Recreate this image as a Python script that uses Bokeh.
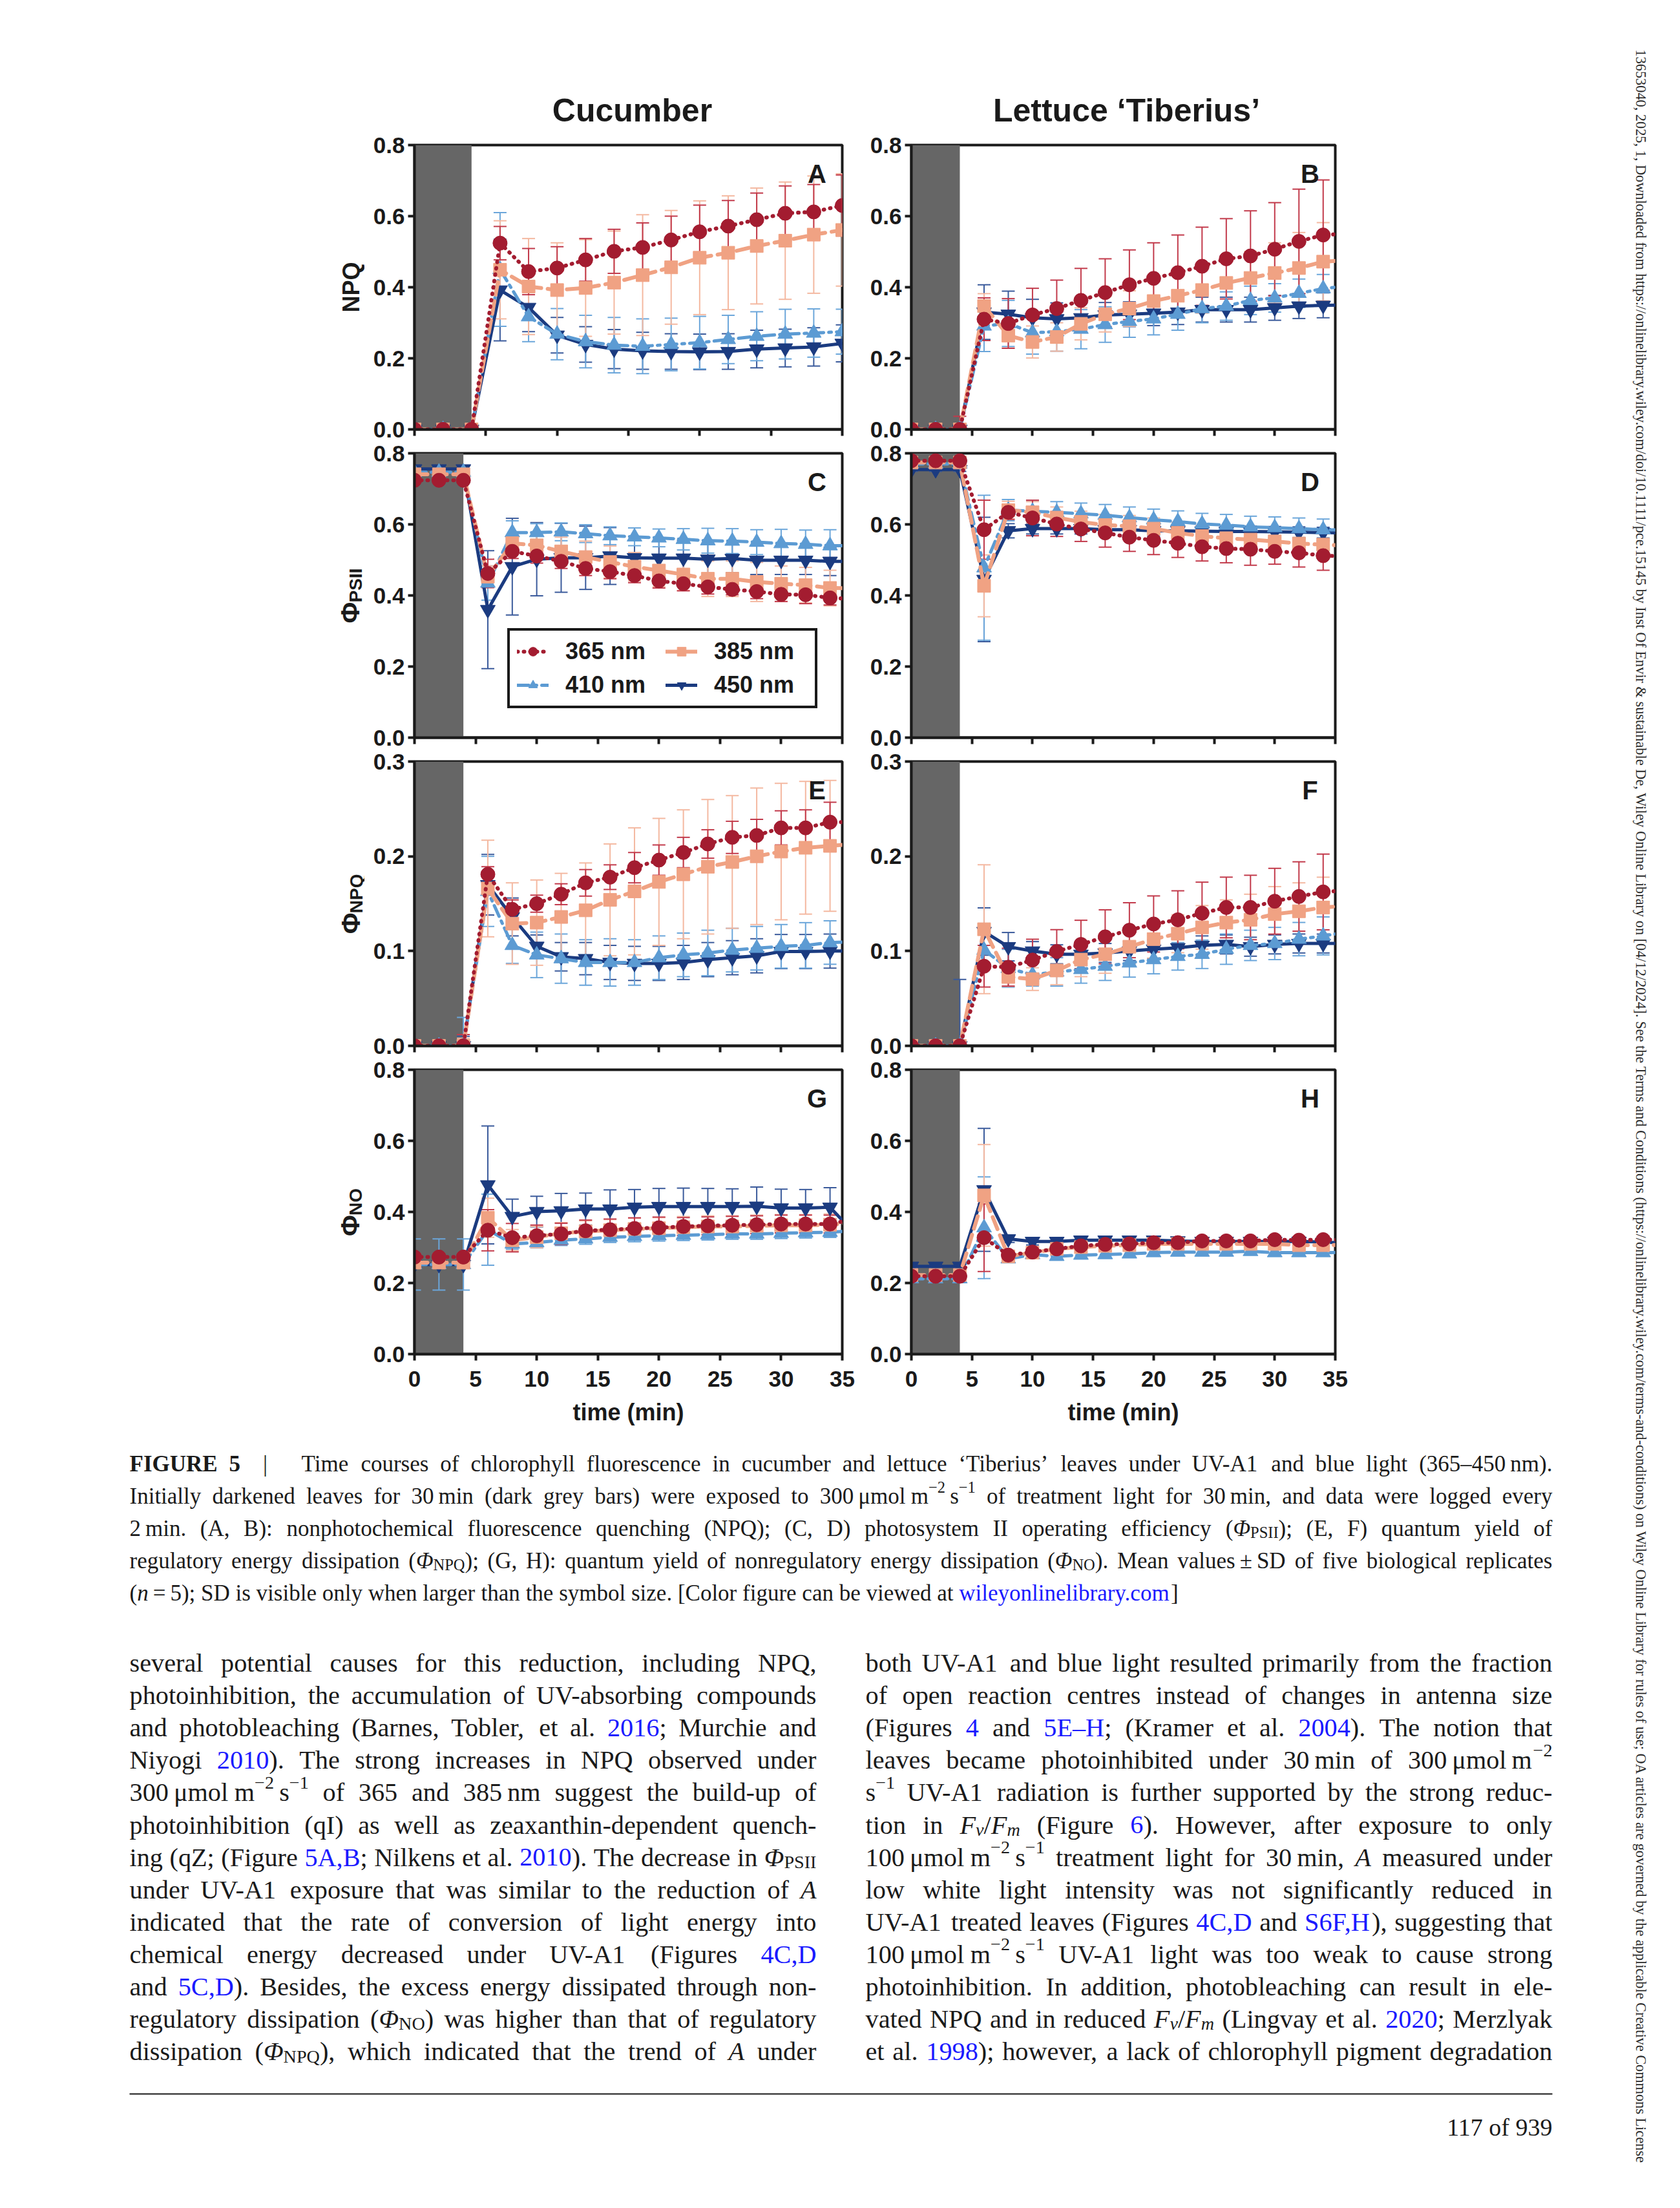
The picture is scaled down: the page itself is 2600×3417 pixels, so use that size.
import math
import re
from bokeh.plotting import figure
from bokeh.layouts import row, column
from bokeh.models import (Range1d, ColumnDataSource, Legend, LegendItem,
                          FixedTicker, NumeralTickFormatter)
from bokeh.core.properties import value
from bokeh.embed import file_html
from bokeh.resources import INLINE

# ------------------------------------------------------------------ data
T_A = [0, 2, 4, 6, 8, 10, 12, 14, 16, 18, 20, 22, 24, 26, 28, 30]
T = [0, 2, 4, 6, 8, 10, 12, 14, 16, 18, 20, 22, 24, 26, 28, 30, 32, 34, 36]
X_TICKS = [0, 5, 10, 15, 20, 25, 30, 35]
Y_TICKS_08 = [0.0, 0.2, 0.4, 0.6, 0.8]
Y_TICKS_03 = [0.0, 0.1, 0.2, 0.3]
DARK = [0, 4]
WAVES = ["365", "385", "410", "450"]

# A: NPQ cucumber
A_365 = [0, 0, 0, 0.524, 0.444, 0.454, 0.477, 0.501, 0.512, 0.533, 0.556, 0.572, 0.590, 0.608, 0.612, 0.630]
A_365_SD = [0, 0, 0, 0.047, 0.065, 0.060, 0.060, 0.062, 0.069, 0.067, 0.075, 0.072, 0.075, 0.077, 0.077, 0.086]
A_385 = [0, 0, 0, 0.449, 0.402, 0.392, 0.398, 0.413, 0.434, 0.456, 0.483, 0.497, 0.516, 0.531, 0.548, 0.561]
A_385_SD = [0, 0, 0, 0.138, 0.135, 0.133, 0.136, 0.145, 0.170, 0.160, 0.160, 0.160, 0.163, 0.165, 0.165, 0.158]
A_410 = [0, 0, 0, 0.450, 0.317, 0.268, 0.247, 0.237, 0.234, 0.239, 0.244, 0.253, 0.262, 0.268, 0.271, 0.275]
A_410_SD = [0, 0, 0, 0.160, 0.070, 0.072, 0.074, 0.078, 0.077, 0.074, 0.074, 0.068, 0.069, 0.070, 0.068, 0.063]
A_450 = [0, 0, 0, 0.392, 0.343, 0.265, 0.239, 0.226, 0.221, 0.219, 0.218, 0.219, 0.226, 0.229, 0.232, 0.242]
A_450_SD = [0, 0, 0, 0.143, 0.068, 0.050, 0.050, 0.055, 0.052, 0.050, 0.050, 0.050, 0.053, 0.053, 0.054, 0.052]

# B: NPQ lettuce
B_365 = [0, 0, 0, 0.310, 0.298, 0.322, 0.340, 0.363, 0.385, 0.407, 0.425, 0.441, 0.459, 0.480, 0.488, 0.507, 0.529, 0.547, 0.551]
B_365_SD = [0, 0, 0.037, 0.060, 0.070, 0.075, 0.080, 0.090, 0.095, 0.098, 0.100, 0.106, 0.110, 0.113, 0.127, 0.131, 0.147, 0.155]
B_385 = [0, 0, 0, 0.347, 0.264, 0.246, 0.260, 0.297, 0.324, 0.340, 0.361, 0.376, 0.392, 0.412, 0.426, 0.440, 0.454, 0.472, 0.476]
B_385_SD = [0, 0, 0, 0.035, 0.035, 0.045, 0.040, 0.045, 0.050, 0.050, 0.055, 0.060, 0.065, 0.070, 0.075, 0.085, 0.100, 0.110]
B_410 = [0, 0, 0, 0.291, 0.298, 0.272, 0.275, 0.282, 0.295, 0.304, 0.311, 0.324, 0.340, 0.347, 0.363, 0.370, 0.383, 0.396, 0.404]
B_410_SD = [0, 0, 0, 0.072, 0.065, 0.060, 0.055, 0.055, 0.050, 0.045, 0.045, 0.045, 0.040, 0.040, 0.040, 0.040, 0.040, 0.040]
B_450 = [0, 0, 0, 0.330, 0.324, 0.314, 0.311, 0.314, 0.322, 0.324, 0.327, 0.330, 0.337, 0.337, 0.337, 0.342, 0.347, 0.349, 0.350]
B_450_SD = [0, 0, 0, 0.077, 0.065, 0.052, 0.045, 0.040, 0.035, 0.035, 0.035, 0.035, 0.035, 0.035, 0.035, 0.035, 0.035, 0.035]

# C: PhiPSII cucumber
C_365 = [0.724, 0.724, 0.724, 0.462, 0.524, 0.511, 0.496, 0.476, 0.467, 0.456, 0.441, 0.433, 0.424, 0.417, 0.411, 0.403, 0.402, 0.393, 0.390]
C_365_SD = [0.005, 0.005, 0.005, 0.040, 0.020, 0.020, 0.020, 0.020, 0.020, 0.020, 0.020, 0.020, 0.020, 0.015, 0.020, 0.020, 0.025, 0.020]
C_385 = [0.741, 0.741, 0.741, 0.453, 0.547, 0.541, 0.524, 0.508, 0.494, 0.481, 0.470, 0.459, 0.447, 0.447, 0.438, 0.433, 0.429, 0.421, 0.420]
C_385_SD = [0, 0, 0, 0.030, 0.020, 0.030, 0.040, 0.045, 0.045, 0.040, 0.045, 0.045, 0.050, 0.050, 0.055, 0.050, 0.050, 0.050]
C_410 = [0.747, 0.747, 0.747, 0.435, 0.577, 0.577, 0.579, 0.574, 0.568, 0.565, 0.562, 0.558, 0.554, 0.553, 0.550, 0.546, 0.544, 0.540, 0.540]
C_410_SD = [0.010, 0.010, 0.010, 0.048, 0.033, 0.025, 0.025, 0.025, 0.025, 0.025, 0.025, 0.030, 0.035, 0.035, 0.035, 0.040, 0.040, 0.045]
C_450 = [0.756, 0.756, 0.756, 0.360, 0.481, 0.502, 0.506, 0.506, 0.511, 0.506, 0.505, 0.505, 0.502, 0.504, 0.499, 0.499, 0.499, 0.496, 0.496]
C_450_SD = [0.010, 0.010, 0.010, 0.166, 0.136, 0.103, 0.097, 0.089, 0.080, 0.060, 0.050, 0.050, 0.045, 0.040, 0.040, 0.040, 0.040, 0.040]

# D: PhiPSII lettuce
D_365 = [0.779, 0.779, 0.779, 0.585, 0.634, 0.618, 0.601, 0.587, 0.576, 0.564, 0.555, 0.547, 0.537, 0.532, 0.530, 0.524, 0.520, 0.512, 0.510]
D_365_SD = [0.005, 0.005, 0.005, 0.083, 0.020, 0.050, 0.035, 0.035, 0.040, 0.040, 0.040, 0.040, 0.040, 0.040, 0.045, 0.036, 0.040, 0.041]
D_385 = [0.774, 0.774, 0.774, 0.427, 0.640, 0.634, 0.619, 0.607, 0.598, 0.595, 0.588, 0.576, 0.567, 0.561, 0.557, 0.552, 0.546, 0.543, 0.540]
D_385_SD = [0.010, 0.010, 0.010, 0.087, 0.025, 0.030, 0.030, 0.030, 0.030, 0.030, 0.030, 0.030, 0.030, 0.030, 0.030, 0.030, 0.030, 0.030]
D_410 = [0.770, 0.770, 0.770, 0.478, 0.640, 0.637, 0.634, 0.630, 0.626, 0.619, 0.613, 0.608, 0.601, 0.598, 0.593, 0.591, 0.588, 0.585, 0.584]
D_410_SD = [0.005, 0.005, 0.005, 0.204, 0.030, 0.030, 0.030, 0.030, 0.030, 0.030, 0.030, 0.030, 0.030, 0.030, 0.030, 0.030, 0.030, 0.030]
D_450 = [0.754, 0.754, 0.754, 0.445, 0.582, 0.588, 0.588, 0.588, 0.585, 0.585, 0.582, 0.582, 0.581, 0.580, 0.580, 0.579, 0.578, 0.577, 0.576]
D_450_SD = [0.005, 0.005, 0.005, 0.175, 0.020, 0.015, 0.015, 0.015, 0.015, 0.015, 0.015, 0.015, 0.015, 0.015, 0.015, 0.015, 0.015, 0.015]

# E: PhiNPQ cucumber
E_365 = [0, 0, 0, 0.181, 0.144, 0.150, 0.160, 0.172, 0.178, 0.188, 0.196, 0.204, 0.213, 0.220, 0.222, 0.230, 0.230, 0.236, 0.236]
E_365_SD = [0, 0, 0.012, 0.008, 0.010, 0.009, 0.011, 0.014, 0.013, 0.016, 0.016, 0.016, 0.015, 0.017, 0.017, 0.018, 0.019, 0.021]
E_385 = [0, 0, 0, 0.166, 0.129, 0.130, 0.136, 0.143, 0.154, 0.163, 0.173, 0.181, 0.189, 0.194, 0.200, 0.205, 0.209, 0.211, 0.213]
E_385_SD = [0, 0, 0.008, 0.051, 0.043, 0.045, 0.046, 0.050, 0.059, 0.067, 0.067, 0.068, 0.071, 0.070, 0.072, 0.072, 0.070, 0.069]
E_410 = [0, 0, 0, 0.163, 0.106, 0.096, 0.092, 0.088, 0.088, 0.088, 0.093, 0.096, 0.098, 0.101, 0.103, 0.105, 0.106, 0.109, 0.110]
E_410_SD = [0, 0, 0.030, 0.037, 0.019, 0.024, 0.026, 0.024, 0.025, 0.024, 0.023, 0.023, 0.024, 0.023, 0.023, 0.023, 0.024, 0.023]
E_450 = [0, 0, 0, 0.170, 0.136, 0.105, 0.094, 0.092, 0.088, 0.087, 0.087, 0.088, 0.091, 0.093, 0.095, 0.0995, 0.0995, 0.100, 0.100]
E_450_SD = [0, 0, 0.010, 0.032, 0.020, 0.012, 0.015, 0.017, 0.018, 0.018, 0.018, 0.018, 0.018, 0.018, 0.018, 0.018, 0.018, 0.018]

# F: PhiNPQ lettuce
F_365 = [0, 0, 0, 0.084, 0.083, 0.0905, 0.0996, 0.107, 0.115, 0.122, 0.1286, 0.133, 0.140, 0.146, 0.146, 0.1526, 0.1576, 0.1624, 0.164]
F_365_SD = [0, 0, 0.005, 0.022, 0.020, 0.022, 0.023, 0.0255, 0.0285, 0.029, 0.0296, 0.0306, 0.0327, 0.032, 0.034, 0.0347, 0.0366, 0.040]
F_385 = [0, 0, 0, 0.123, 0.0727, 0.0704, 0.0795, 0.091, 0.0966, 0.1046, 0.1126, 0.1183, 0.125, 0.130, 0.133, 0.139, 0.142, 0.146, 0.148]
F_385_SD = [0, 0, 0.005, 0.068, 0.010, 0.012, 0.015, 0.018, 0.020, 0.018, 0.020, 0.020, 0.023, 0.024, 0.027, 0.029, 0.030, 0.032]
F_410 = [0, 0, 0, 0.101, 0.0818, 0.075, 0.078, 0.0806, 0.084, 0.0875, 0.091, 0.0944, 0.0966, 0.102, 0.106, 0.108, 0.1126, 0.116, 0.120]
F_410_SD = [0, 0, 0.005, 0.020, 0.020, 0.012, 0.015, 0.0145, 0.015, 0.015, 0.015, 0.0145, 0.015, 0.016, 0.016, 0.017, 0.0176, 0.020]
F_450 = [0, 0, 0, 0.1206, 0.1046, 0.100, 0.0966, 0.0966, 0.098, 0.100, 0.102, 0.1035, 0.106, 0.107, 0.1046, 0.107, 0.108, 0.108, 0.108]
F_450_SD = [0, 0, 0.070, 0.025, 0.015, 0.010, 0.010, 0.010, 0.010, 0.010, 0.010, 0.010, 0.010, 0.010, 0.010, 0.010, 0.010, 0.010]

# G: PhiNO cucumber
G_365 = [0.273, 0.273, 0.273, 0.3485, 0.3275, 0.333, 0.338, 0.347, 0.350, 0.3534, 0.3555, 0.359, 0.361, 0.3625, 0.364, 0.366, 0.366, 0.366, 0.380]
G_365_SD = [0.010, 0.010, 0.010, 0.058, 0.040, 0.030, 0.030, 0.030, 0.030, 0.030, 0.030, 0.025, 0.025, 0.025, 0.025, 0.025, 0.025, 0.025]
G_385 = [0.2575, 0.2575, 0.2575, 0.3835, 0.3205, 0.329, 0.340, 0.345, 0.3485, 0.352, 0.354, 0.357, 0.359, 0.359, 0.361, 0.3625, 0.3625, 0.364, 0.370]
G_385_SD = [0.015, 0.015, 0.015, 0.055, 0.030, 0.030, 0.030, 0.030, 0.030, 0.030, 0.030, 0.030, 0.030, 0.030, 0.030, 0.030, 0.030, 0.030]
G_410 = [0.252, 0.252, 0.252, 0.350, 0.310, 0.3135, 0.3205, 0.324, 0.329, 0.331, 0.333, 0.3345, 0.336, 0.338, 0.338, 0.340, 0.3415, 0.343, 0.347]
G_410_SD = [0.072, 0.072, 0.072, 0.100, 0.015, 0.015, 0.015, 0.015, 0.015, 0.015, 0.015, 0.015, 0.015, 0.015, 0.015, 0.015, 0.015, 0.015]
G_450 = [0.252, 0.252, 0.252, 0.476, 0.387, 0.401, 0.403, 0.408, 0.408, 0.413, 0.415, 0.415, 0.415, 0.415, 0.416, 0.411, 0.411, 0.413, 0.340]
G_450_SD = [0.010, 0.010, 0.010, 0.166, 0.049, 0.043, 0.049, 0.045, 0.054, 0.050, 0.051, 0.052, 0.051, 0.050, 0.054, 0.053, 0.052, 0.055]

# H: PhiNO lettuce
H_365 = [0.219, 0.219, 0.219, 0.3275, 0.2785, 0.287, 0.296, 0.3045, 0.3086, 0.310, 0.3135, 0.3135, 0.3184, 0.3184, 0.3184, 0.322, 0.3205, 0.322, 0.322]
H_365_SD = [0.005, 0.005, 0.005, 0.095, 0.010, 0.010, 0.010, 0.010, 0.010, 0.010, 0.010, 0.010, 0.010, 0.010, 0.010, 0.010, 0.010, 0.010]
H_385 = [0.2225, 0.2225, 0.2225, 0.4465, 0.275, 0.2855, 0.296, 0.301, 0.3045, 0.3065, 0.310, 0.310, 0.310, 0.310, 0.310, 0.310, 0.3065, 0.3065, 0.307]
H_385_SD = [0.005, 0.005, 0.005, 0.143, 0.010, 0.010, 0.010, 0.010, 0.010, 0.010, 0.010, 0.010, 0.010, 0.010, 0.010, 0.010, 0.010, 0.010]
H_410 = [0.212, 0.212, 0.212, 0.3555, 0.268, 0.280, 0.275, 0.2785, 0.280, 0.282, 0.2855, 0.287, 0.287, 0.287, 0.289, 0.2855, 0.2855, 0.2855, 0.286]
H_410_SD = [0.010, 0.010, 0.010, 0.143, 0.010, 0.010, 0.010, 0.010, 0.010, 0.010, 0.010, 0.010, 0.010, 0.010, 0.010, 0.010, 0.010, 0.010]
H_450 = [0.247, 0.247, 0.247, 0.462, 0.324, 0.317, 0.317, 0.3205, 0.3205, 0.3205, 0.3205, 0.3184, 0.317, 0.317, 0.317, 0.317, 0.317, 0.315, 0.312]
H_450_SD = [0.005, 0.005, 0.005, 0.173, 0.010, 0.010, 0.010, 0.010, 0.010, 0.010, 0.010, 0.010, 0.010, 0.010, 0.010, 0.010, 0.010, 0.010]

COL_TITLES = ["Cucumber", "Lettuce \u2018Tiberius\u2019"]
Y_LABELS = [("NPQ", ""), ("\u03a6", "PSII"), ("\u03a6", "NPQ"), ("\u03a6", "NO")]
X_LABEL = "time (min)"

# ------------------------------------------------------------------ geometry (page px)
MAIN_W, SIDE_W = 2500, 98
TOP_H = 208
GUT_W = 564
L_W, L_MB_L, L_MB_R = 769, 77, 30
R_W, R_MB_L, R_MB_R = 1167, 77, 434
ROW_H, MB_T, MB_B = 477, 16, 21
LAST_MB_B = 130
LAST_H = MB_T + (ROW_H - MB_T - MB_B) + LAST_MB_B
GRID_H = 3 * ROW_H + LAST_H
TOTAL_H = 3415
TEXT_H = TOTAL_H - TOP_H - GRID_H
FRAME_H = ROW_H - MB_T - MB_B
GRID_TOP = TOP_H
TEXT_TOP = TOP_H + GRID_H

INK = "#1a1a1a"
SANS = "Liberation Sans"
SERIF = "Liberation Serif"
LINK = "#1a1aff"

STYLE = {
    "365": dict(color="#A31C30", err="#C23A4B", marker="circle", size=22, dash="1 9", lw=6),
    "385": dict(color="#F0A283", err="#F4B8A0", marker="square", size=20, dash="20 10", lw=6),
    "410": dict(color="#5C9BD3", err="#6BA6DA", marker="triangle", size=23, dash="18 8 4 8", lw=5),
    "450": dict(color="#1B3B80", err="#3A5A9B", marker="inverted_triangle", size=23, dash="solid", lw=5),
}
DRAW_ORDER = ["450", "410", "385", "365"]

PANELS = {
    "A": (T_A, 30, 0.8, Y_TICKS_08, {"365": (A_365, A_365_SD), "385": (A_385, A_385_SD), "410": (A_410, A_410_SD), "450": (A_450, A_450_SD)}),
    "B": (T, 35, 0.8, Y_TICKS_08, {"365": (B_365, B_365_SD), "385": (B_385, B_385_SD), "410": (B_410, B_410_SD), "450": (B_450, B_450_SD)}),
    "C": (T, 35, 0.8, Y_TICKS_08, {"365": (C_365, C_365_SD), "385": (C_385, C_385_SD), "410": (C_410, C_410_SD), "450": (C_450, C_450_SD)}),
    "D": (T, 35, 0.8, Y_TICKS_08, {"365": (D_365, D_365_SD), "385": (D_385, D_385_SD), "410": (D_410, D_410_SD), "450": (D_450, D_450_SD)}),
    "E": (T, 35, 0.3, Y_TICKS_03, {"365": (E_365, E_365_SD), "385": (E_385, E_385_SD), "410": (E_410, E_410_SD), "450": (E_450, E_450_SD)}),
    "F": (T, 35, 0.3, Y_TICKS_03, {"365": (F_365, F_365_SD), "385": (F_385, F_385_SD), "410": (F_410, F_410_SD), "450": (F_450, F_450_SD)}),
    "G": (T, 35, 0.8, Y_TICKS_08, {"365": (G_365, G_365_SD), "385": (G_385, G_385_SD), "410": (G_410, G_410_SD), "450": (G_450, G_450_SD)}),
    "H": (T, 35, 0.8, Y_TICKS_08, {"365": (H_365, H_365_SD), "385": (H_385, H_385_SD), "410": (H_410, H_410_SD), "450": (H_450, H_450_SD)}),
}


def make_panel(letter, is_left, is_bottom, with_legend):
    t, xmax, ymax, yticks, data = PANELS[letter]
    w = L_W if is_left else R_W
    h = LAST_H if is_bottom else ROW_H
    mbl = L_MB_L if is_left else R_MB_L
    mbr = L_MB_R if is_left else R_MB_R
    mbb = LAST_MB_B if is_bottom else MB_B
    fw = w - mbl - mbr
    p = figure(width=w, height=h, x_range=Range1d(0, xmax), y_range=Range1d(0, ymax),
               min_border_left=mbl, min_border_right=mbr, min_border_top=MB_T,
               min_border_bottom=mbb, toolbar_location=None, output_backend="svg")
    p.xgrid.visible = False
    p.ygrid.visible = False
    p.outline_line_color = INK
    p.outline_line_width = 4
    p.background_fill_color = "white"
    p.border_fill_color = "white"

    p.quad(left=[DARK[0]], right=[DARK[1]], bottom=[0], top=[ymax],
           fill_color="#666666", line_color=None)

    for key in DRAW_ORDER:
        mean, sd = data[key]
        st = STYLE[key]
        xs, lo, hi = [], [], []
        for ti, mi, si in zip(t, mean, sd):
            if si > 0:
                xs.append(ti)
                lo.append(mi - si)
                hi.append(mi + si)
        if xs:
            p.segment(x0=xs, y0=lo, x1=xs, y1=hi, line_color=st["err"], line_width=2)
            p.scatter(x=xs + xs, y=lo + hi, marker="dash", size=20,
                      line_color=st["err"], line_width=2)

    rend = {}
    for key in DRAW_ORDER:
        mean, sd = data[key]
        st = STYLE[key]
        lr = p.line(t[:len(mean)], mean, line_color=st["color"], line_width=st["lw"],
                    line_dash=st["dash"], line_cap="round")
        n = len(sd)
        sr = p.scatter(t[:n], mean[:n], marker=st["marker"], size=st["size"],
                       fill_color=st["color"], line_color=st["color"])
        rend[key] = (lr, sr)

    p.text(x=[xmax - 39.0 / fw * xmax], y=[ymax - 44.0 / FRAME_H * ymax], text=[letter],
           text_font=value(SANS), text_font_style="bold", text_font_size=value("40px"),
           text_color=INK, text_align="center", text_baseline="middle")

    for ax in (p.xaxis[0], p.yaxis[0]):
        ax.axis_line_width = 4
        ax.axis_line_color = INK
        ax.major_tick_line_width = 4
        ax.major_tick_line_color = INK
        ax.major_tick_out = 10
        ax.major_tick_in = 0
        ax.minor_tick_line_color = None
        ax.major_label_text_font = SANS
        ax.major_label_text_font_style = "bold"
        ax.major_label_text_font_size = "35px"
        ax.major_label_text_color = INK
    xt = [x for x in X_TICKS if x <= xmax]
    p.xaxis.ticker = FixedTicker(ticks=xt)
    p.yaxis.ticker = FixedTicker(ticks=yticks)
    p.yaxis.formatter = NumeralTickFormatter(format="0.0")
    p.yaxis.major_label_standoff = 5
    if is_bottom:
        p.xaxis.major_label_standoff = 16
        p.xaxis.axis_label = X_LABEL
        p.xaxis.axis_label_text_font = SANS
        p.xaxis.axis_label_text_font_style = "bold"
        p.xaxis.axis_label_text_font_size = "36px"
        p.xaxis.axis_label_text_color = INK
        p.xaxis.axis_label_standoff = 16
    else:
        p.xaxis.major_label_overrides = {x: "" for x in xt}
        p.xaxis.major_label_text_font_size = "1px"
        p.xaxis.major_label_standoff = 0

    if with_legend:
        items = [LegendItem(label=f"{k} nm", renderers=list(rend[k])) for k in WAVES]
        lg = Legend(items=items, location=(144, 45), orientation="horizontal", ncols=2,
                    border_line_color=INK, border_line_width=4, border_line_alpha=1.0,
                    background_fill_color="white", background_fill_alpha=1.0,
                    label_text_font=SANS, label_text_font_style="bold",
                    label_text_font_size="36px", label_text_color=INK,
                    glyph_width=49, glyph_height=34, label_height=34, label_width=145,
                    label_standoff=26, spacing=10, padding=11, margin=0)
        p.add_layout(lg)
    return p


def plain_fig(w, h):
    p = figure(width=w, height=h, x_range=Range1d(0, w), y_range=Range1d(0, h),
               x_axis_type=None, y_axis_type=None, toolbar_location=None,
               output_backend="svg", min_border=0)
    p.outline_line_color = None
    p.background_fill_color = "white"
    p.border_fill_color = "white"
    return p


# ------------------------------------------------------------------ header / gutter
top = plain_fig(MAIN_W, TOP_H)
TITLE_X = [978, 1743]
top.text(x=TITLE_X, y=[TOP_H - 170] * 2, text=COL_TITLES,
         text_font=value(SANS), text_font_style="bold", text_font_size=value("50px"),
         text_color=INK, text_align="center", text_baseline="middle")

gut = plain_fig(GUT_W, GRID_H)
AR_B = {"N": 722, "P": 667, "Q": 778, "S": 667, "I": 278, "O": 778}
LABEL_XS = [543, 541, 542, 541]
for r, (main, sub) in enumerate(Y_LABELS):
    cy = GRID_TOP + r * ROW_H + MB_T + FRAME_H / 2
    gx = LABEL_XS[r]
    if not sub:
        gut.text(x=[gx], y=[GRID_H - (cy - GRID_TOP)], text=[main], angle=math.pi / 2,
                 text_font=value(SANS), text_font_style="bold", text_font_size=value("36px"),
                 text_color=INK, text_align="center", text_baseline="middle")
    else:
        wf = 0.78 * 40
        ws = sum(AR_B.get(c, 600) for c in sub) / 1000 * 28
        L = wf + ws
        yf = cy + L / 2 - wf / 2
        ys = cy - L / 2 + ws / 2
        gut.text(x=[gx], y=[GRID_H - (yf - GRID_TOP)], text=[main], angle=math.pi / 2,
                 text_font=value(SANS), text_font_style="bold", text_font_size=value("40px"),
                 text_color=INK, text_align="center", text_baseline="middle")
        gut.text(x=[gx + 9], y=[GRID_H - (ys - GRID_TOP)], text=[sub], angle=math.pi / 2,
                 text_font=value(SANS), text_font_style="bold", text_font_size=value("28px"),
                 text_color=INK, text_align="center", text_baseline="middle")

rows = []
pairs = [("A", "B"), ("C", "D"), ("E", "F"), ("G", "H")]
for r, (a, b) in enumerate(pairs):
    last = r == 3
    rows.append(row(make_panel(a, True, last, a == "C"), make_panel(b, False, last, False)))
grid = row(gut, column(*rows))

# ------------------------------------------------------------------ text block
TIMES = dict(zip(
    " !\"#$%&'()*+,-./0123456789:;<=>?@",
    [250, 333, 408, 500, 500, 833, 778, 180, 333, 333, 500, 564, 250, 333, 250, 278,
     500, 500, 500, 500, 500, 500, 500, 500, 500, 500, 278, 278, 564, 564, 564, 444, 921]))
TIMES.update(dict(zip(
    "ABCDEFGHIJKLMNOPQRSTUVWXYZ[]|",
    [722, 667, 667, 722, 611, 556, 722, 722, 333, 389, 722, 611, 889, 722, 722, 556, 722,
     667, 556, 611, 722, 722, 944, 722, 722, 611, 333, 333, 200])))
TIMES.update(dict(zip(
    "abcdefghijklmnopqrstuvwxyz",
    [444, 500, 444, 500, 444, 333, 500, 500, 278, 278, 500, 278, 778, 500, 500, 500, 500,
     333, 389, 278, 500, 500, 722, 500, 500, 444])))
TIMES.update({"\u2018": 333, "\u2019": 333, "\u2013": 500, "\u2212": 564, "\u03bc": 576,
              "\u00b1": 564, "\u03a6": 760, "\u2009": 200, "\u2002": 500, "\u2003": 1000})
BOLD = {"F": 611, "I": 389, "G": 778, "U": 722, "R": 722, "E": 667}
ITAL = {"A": 611, "F": 611, "v": 444, "m": 722, "n": 500}

KINDS = {  # style, colour, size factor, baseline shift factor
    "n": ("normal", INK, 1.0, 0.0),
    "b": ("bold", INK, 1.0, 0.0),
    "i": ("italic", INK, 1.0, 0.0),
    "l": ("normal", LINK, 1.0, 0.0),
    "sup": ("normal", INK, 0.7, 0.38),
    "sub": ("normal", INK, 0.7, -0.18),
    "isub": ("italic", INK, 0.7, -0.18),
}


def em_width(s, kind):
    st = KINDS[kind][0]
    tot = 0
    for c in s:
        w = TIMES.get(c, 500)
        if st == "bold":
            w = BOLD.get(c, w)
        elif st == "italic":
            w = ITAL.get(c, w)
        tot += w
    return tot / 1000.0 * KINDS[kind][2]


def pieces_of(segs):
    out = []
    for text, kind in segs:
        if kind in ("n", "l", "i", "b"):
            for part in re.split("( )", text):
                if part:
                    out.append((part, kind, part == " "))
        else:
            out.append((text, kind, False))
    return out


def natural(segs):
    return sum(em_width(p, k) for p, k, _ in pieces_of(segs))


def lay(segs, x0, width, base_y, S, justify, items):
    pcs = pieces_of(segs)
    nat = sum(em_width(p, k) for p, k, _ in pcs) * S
    nsp = sum(1 for _, _, s in pcs if s)
    extra = (width - nat) / nsp if (justify and nsp) else 0.0
    x = x0
    for p, k, s in pcs:
        w = em_width(p, k) * S
        if s:
            x += w + extra
        else:
            items.append((x, base_y - KINDS[k][3] * S, p, k, S))
            x += w


def S_(t):
    return [(t, "n")]


SUP2 = [("m", "n"), ("\u22122", "sup"), ("\u2009s", "n"), ("\u22121", "sup")]

CAPTION = [
    [("FIGURE 5", "b"), ("\u2002\u2002|\u2002\u2003", "n"),
     ("Time courses of chlorophyll fluorescence in cucumber and lettuce \u2018Tiberius\u2019 leaves under UV-A1 and blue light (365\u2013450\u2009nm).", "n")],
    [("Initially darkened leaves for 30\u2009min (dark grey bars) were exposed to 300\u2009\u03bcmol\u2009", "n")] + SUP2 +
    [(" of treatment light for 30\u2009min, and data were logged every", "n")],
    [("2\u2009min. (A, B): nonphotochemical fluorescence quenching (NPQ); (C, D) photosystem II operating efficiency (", "n"),
     ("\u03a6", "i"), ("PSII", "sub"), ("); (E, F) quantum yield of", "n")],
    [("regulatory energy dissipation (", "n"), ("\u03a6", "i"), ("NPQ", "sub"),
     ("); (G, H): quantum yield of nonregulatory energy dissipation (", "n"), ("\u03a6", "i"), ("NO", "sub"),
     ("). Mean values\u2009\u00b1\u2009SD of five biological replicates", "n")],
    [("(", "n"), ("n", "i"), ("\u2009=\u20095); SD is visible only when larger than the symbol size. [Color figure can be viewed at ", "n"),
     ("wileyonlinelibrary.com", "l"), ("]", "n")],
]
CAPTION_JUST = [True, True, True, True, False]

LEFT_COL = [
    S_("several potential causes for this reduction, including NPQ,"),
    S_("photoinhibition, the accumulation of UV-absorbing compounds"),
    [("and photobleaching (Barnes, Tobler, et al. ", "n"), ("2016", "l"), ("; Murchie and", "n")],
    [("Niyogi ", "n"), ("2010", "l"), ("). The strong increases in NPQ observed under", "n")],
    [("300\u2009\u03bcmol\u2009", "n")] + SUP2 + [(" of 365 and 385\u2009nm suggest the build-up of", "n")],
    S_("photoinhibition (qI) as well as zeaxanthin-dependent quench-"),
    [("ing (qZ; (Figure ", "n"), ("5A,B", "l"), ("; Nilkens et al. ", "n"), ("2010", "l"),
     ("). The decrease in ", "n"), ("\u03a6", "i"), ("PSII", "sub")],
    [("under UV-A1 exposure that was similar to the reduction of ", "n"), ("A", "i")],
    S_("indicated that the rate of conversion of light energy into"),
    [("chemical energy decreased under UV-A1 (Figures ", "n"), ("4C,D", "l")],
    [("and ", "n"), ("5C,D", "l"), ("). Besides, the excess energy dissipated through non-", "n")],
    [("regulatory dissipation (", "n"), ("\u03a6", "i"), ("NO", "sub"), (") was higher than that of regulatory", "n")],
    [("dissipation (", "n"), ("\u03a6", "i"), ("NPQ", "sub"), ("), which indicated that the trend of ", "n"),
     ("A", "i"), (" under", "n")],
]
FVFM = [("F", "i"), ("v", "isub"), ("/", "n"), ("F", "i"), ("m", "isub")]
RIGHT_COL = [
    S_("both UV-A1 and blue light resulted primarily from the fraction"),
    S_("of open reaction centres instead of changes in antenna size"),
    [("(Figures ", "n"), ("4", "l"), (" and ", "n"), ("5E\u2013H", "l"), ("; (Kramer et al. ", "n"),
     ("2004", "l"), ("). The notion that", "n")],
    [("leaves became photoinhibited under 30\u2009min of 300\u2009\u03bcmol\u2009m", "n"), ("\u22122", "sup")],
    [("s", "n"), ("\u22121", "sup"), (" UV-A1 radiation is further supported by the strong reduc-", "n")],
    [("tion in ", "n")] + FVFM + [(" (Figure ", "n"), ("6", "l"), ("). However, after exposure to only", "n")],
    [("100\u2009\u03bcmol\u2009", "n")] + SUP2 + [(" treatment light for 30\u2009min, ", "n"), ("A", "i"),
                                               (" measured under", "n")],
    S_("low white light intensity was not significantly reduced in"),
    [("UV-A1 treated leaves (Figures ", "n"), ("4C,D", "l"), (" and ", "n"), ("S6F,H", "l"),
     ("), suggesting that", "n")],
    [("100\u2009\u03bcmol\u2009", "n")] + SUP2 + [(" UV-A1 light was too weak to cause strong", "n")],
    S_("photoinhibition. In addition, photobleaching can result in ele-"),
    [("vated NPQ and in reduced ", "n")] + FVFM + [(" (Lingvay et al. ", "n"), ("2020", "l"),
                                                   ("; Merzlyak", "n")],
    [("et al. ", "n"), ("1998", "l"), ("); however, a lack of chlorophyll pigment degradation", "n")],
]
FOOTER = "117 of 939"
SIDEBAR = ("13653040, 2025, 1, Downloaded from https://onlinelibrary.wiley.com/doi/10.1111/pce.15145 "
           "by Inst Of Envir & sustainable De, Wiley Online Library on [04/12/2024]. See the Terms and "
           "Conditions (https://onlinelibrary.wiley.com/terms-and-conditions) on Wiley Online Library "
           "for rules of use; OA articles are governed by the applicable Creative Commons License")

TEXT_X0, TEXT_X1 = 200, 2402
COL_W = 1063
RCOL_X0 = 1339
CAP_Y0, BODY_Y0, LINE_PITCH = 2264, 2574, 50.1

items = []
cap_w = TEXT_X1 - TEXT_X0
S_cap = min([0.995 * cap_w / natural(l) for l, j in zip(CAPTION, CAPTION_JUST) if j] + [35.0])
for i, (segs, j) in enumerate(zip(CAPTION, CAPTION_JUST)):
    lay(segs, TEXT_X0, cap_w, CAP_Y0 + i * LINE_PITCH + 0.3 * S_cap - 10, S_cap, j, items)
S_body = min([0.995 * COL_W / natural(l) for l in LEFT_COL + RIGHT_COL] + [41.0])
for i, segs in enumerate(LEFT_COL):
    lay(segs, TEXT_X0, COL_W, BODY_Y0 + i * LINE_PITCH + 0.3 * S_body - 13, S_body, True, items)
for i, segs in enumerate(RIGHT_COL):
    lay(segs, RCOL_X0, COL_W, BODY_Y0 + i * LINE_PITCH + 0.3 * S_body - 13, S_body, True, items)

txt = plain_fig(MAIN_W, TEXT_H)
groups = {}
for x, y, s, k, S in items:
    groups.setdefault((k, round(S * KINDS[k][2], 2)), []).append((x, TEXT_H - (y - TEXT_TOP), s))
for (k, size), vals in groups.items():
    style, color, _, _ = KINDS[k]
    src = ColumnDataSource(dict(x=[v[0] for v in vals], y=[v[1] for v in vals], text=[v[2] for v in vals]))
    txt.text(x="x", y="y", text="text", source=src, text_font=value(SERIF),
             text_font_style=style, text_font_size=value(f"{size}px"), text_color=color,
             text_align="left", text_baseline="alphabetic")

# footer rule and page number
txt.segment(x0=[TEXT_X0], y0=[TEXT_H - (3240 - TEXT_TOP)], x1=[TEXT_X1],
            y1=[TEXT_H - (3240 - TEXT_TOP)], line_color=INK, line_width=2)
txt.text(x=[TEXT_X1], y=[TEXT_H - (3291 - TEXT_TOP)], text=[FOOTER], text_font=value(SERIF),
         text_font_size=value("38px"), text_color=INK, text_align="right", text_baseline="middle")

# ------------------------------------------------------------------ sidebar
side = plain_fig(SIDE_W, TOTAL_H)
S_side = 3280.0 / natural([(SIDEBAR, "n")])
side.text(x=[2539 - MAIN_W], y=[TOTAL_H - 76], text=[SIDEBAR], angle=-math.pi / 2,
          text_font=value(SERIF), text_font_size=value(f"{S_side:.1f}px"), text_color="#2a2a2a",
          text_align="left", text_baseline="middle")

main = column(top, grid, txt)
root = row(main, side)

open("out.html", "w").write(file_html(root, INLINE))
